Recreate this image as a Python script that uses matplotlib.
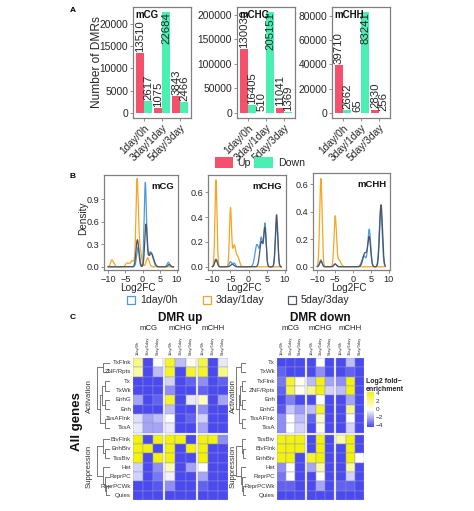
import numpy as np
import matplotlib
matplotlib.use('Agg')
import matplotlib.pyplot as plt
from matplotlib.colors import LinearSegmentedColormap, Normalize
from matplotlib.patches import Rectangle

plt.rcParams['font.family'] = ['Liberation Sans', 'DejaVu Sans']

# ---------------- data: panel A ----------------
comparisons = ['1day/0h', '3day/1day', '5day/3day']
contexts = ['mCG', 'mCHG', 'mCHH']
dmr_up_mCG = [13510, 1075, 3843]
dmr_down_mCG = [2617, 22684, 2466]
dmr_up_mCHG = [130030, 510, 11041]
dmr_down_mCHG = [16405, 205151, 1369]
dmr_up_mCHH = [39710, 65, 2830]
dmr_down_mCHH = [2662, 83241, 256]
yticks_mCG = [0, 5000, 10000, 15000, 20000]
yticks_mCHG = [0, 50000, 100000, 150000, 200000]
yticks_mCHH = [0, 20000, 40000, 60000, 80000]

# ---------------- data: panel B (density peaks: center, height, width) ----------------
peaks_mCG_1d = [(-1.3, 0.26, 0.4), (0.8, 1.1, 0.32), (2.3, 0.2, 0.7), (7.5, 0.06, 0.35)]
peaks_mCG_3d = [(-9.0, 0.08, 0.35), (-8.4, 0.04, 0.35), (-4.5, 0.05, 0.45), (-3.0, 0.08, 0.55),
                (-1.6, 1.0, 0.32), (-1.0, 0.3, 0.55), (1.5, 0.12, 0.45)]
peaks_mCG_5d = [(-1.5, 0.36, 0.4), (1.0, 0.55, 0.36), (2.5, 0.18, 0.7), (7.7, 0.03, 0.35)]

peaks_mCHG_1d = [(-9.0, 0.06, 0.35), (-5.0, 0.04, 0.35), (-4.0, 0.03, 0.35), (2.3, 0.18, 0.55),
                 (3.5, 0.22, 0.35), (4.5, 0.35, 0.33), (7.7, 0.36, 0.33)]
peaks_mCHG_3d = [(-9.0, 0.70, 0.28), (-5.0, 0.47, 0.28), (-4.0, 0.17, 0.4), (-3.0, 0.08, 0.45)]
peaks_mCHG_5d = [(-9.0, 0.06, 0.35), (-4.5, 0.02, 0.45), (3.5, 0.2, 0.45), (4.5, 0.3, 0.33), (7.7, 0.42, 0.33)]

peaks_mCHH_1d = [(-9.0, 0.05, 0.35), (-5.0, 0.02, 0.35), (3.0, 0.08, 0.55), (4.5, 0.27, 0.4), (7.7, 0.42, 0.4)]
peaks_mCHH_3d = [(-9.0, 0.64, 0.33), (-5.0, 0.36, 0.33), (-4.0, 0.05, 0.55)]
peaks_mCHH_5d = [(-9.0, 0.04, 0.35), (-5.0, 0.02, 0.35), (3.3, 0.1, 0.55), (4.5, 0.21, 0.4), (7.8, 0.45, 0.4)]

dens_yticks_mCG = [0.0, 0.3, 0.6, 0.9]
dens_yticks_mCHG = [0.0, 0.2, 0.4, 0.6]
dens_yticks_mCHH = [0.0, 0.2, 0.4, 0.6]
dens_xticks = [-10, -5, 0, 5, 10]

# ---------------- data: panel C (log2 fold-enrichment) ----------------
up_rows = ['TxFlnk', 'ZNF/Rpts', 'Tx', 'TxWk', 'EnhG', 'Enh', 'TssAFlnk', 'TssA',
           'BivFlnk', 'EnhBiv', 'TssBiv', 'Het', 'ReprPC', 'ReprPCWk', 'Quies']
up_mCG = [[2, -4, 0], [1.5, -4, -1.5], [-4, -4, -4], [-4, -4, -4], [-2, -4, -3.5], [-4, -4, -4],
          [-0.7, -2, -1.5], [-0.5, -2, -2], [4, -4, 4], [4, 4, -4], [4, -4, 4], [-1, -4, -2.5],
          [-1, -4, -3], [-4, -4, -3.7], [-4, -4, -4]]
up_mCHG = [[3.5, -1.5, 0.3], [3.5, -4, 3.5], [-1, -4, -3.5], [-2.5, -4, -4], [3.5, -4, -0.5],
           [-1.5, -4, -4], [0, -4, -3.5], [-0.5, -4, -4], [4, 4, -4], [4, -4, 4], [4, -4, -4],
           [1.2, -4, -2], [-0.3, -4, -4], [-2.5, -4, -4], [-4, -4, -4]]
up_mCHH = [[3, -4, -0.5], [3.5, -4, 2], [-2.5, -4, -3.5], [-3.5, -4, -4], [1, -4, -2],
           [-2.5, -4, -4], [-1, -4, -4], [-2, -4, -4], [4, 4, -2.5], [4, -4, -4], [4, -4, -4],
           [0, -4, -4], [-2, -4, -4], [-3.5, -4, -4], [-4, -4, -4]]

down_rows = ['Tx', 'TxWk', 'TxFlnk', 'ZNF/Rpts', 'Enh', 'EnhG', 'TssAFlnk', 'TssA',
             'TssBiv', 'BivFlnk', 'EnhBiv', 'Het', 'ReprPC', 'ReprPCWk', 'Quies']
down_mCG = [[-4, -4, -4], [-3.5, -4, -4], [-3, 3.5, 0.3], [-3.5, 3, 0.3], [-4, -2.8, -4],
            [-3.7, -1.2, -2.2], [-2.5, 0, -1.5], [-2.5, 0, -1], [4, 4, 4], [4, 4, 4], [4, 4, -4],
            [-2.5, 0, -4], [-3, 0, -4], [-3.5, -3.5, -4], [-4, -4, -4]]
down_mCHG = [[-4, 0, -4], [-4, -2.5, -4], [-1.5, 4, -2], [2, 4, -1], [-4, 0, -4],
             [-1.5, 3.5, -4], [-3.5, 1, -4], [-4, 0.5, -4], [-4, 4, -4], [-4, 4, -4], [3.5, 4, -4],
             [-2, 1.5, -4], [-4, 0, -4], [-4, -2, -4], [-4, -4, -4]]
down_mCHH = [[-4, -1.5, -4], [-4, -3.5, -4], [-2.5, 4, -4], [-1.5, 4, -4], [-4, -2, -4],
             [-4, 2, -4], [-4, 0, -4], [-4, -1, -4], [1.5, 4, -4], [-4, 4, -4], [-4, 4, 0],
             [-4, 1.5, -4], [-4, -1, -4], [-3.5, -3.5, -4], [-4, -4, -4]]
cbar_ticks = [4, 2, 0, -2, -4]

# ---------------- figure ----------------
W, H = 474, 511
fig = plt.figure(figsize=(W / 100, H / 100), dpi=100)


def add_ax(x0, y0, x1, y1):
    return fig.add_axes([x0 / W, 1 - y1 / H, (x1 - x0) / W, (y1 - y0) / H])


def T(x, y, s, **kw):
    return fig.text(x / W, 1 - y / H, s, **kw)


def frect(x0, y0, x1, y1, **kw):
    fig.add_artist(Rectangle((x0 / W, 1 - y1 / H), (x1 - x0) / W, (y1 - y0) / H,
                             transform=fig.transFigure, **kw))


SP = '#808080'
TXT = '#262626'
UP_C = '#F4516C'
DOWN_C = '#4CEFB2'


def style_ax(ax, size):
    for s in ax.spines.values():
        s.set_color(SP)
        s.set_linewidth(0.9)
    ax.tick_params(length=2, width=0.6, color=SP, labelsize=size, labelcolor=TXT, pad=1.5)


# ---------- Panel A ----------
T(73, 10, 'A', fontsize=6, fontweight='bold', ha='center', va='center')
bar_sets = [(133, dmr_up_mCG, dmr_down_mCG, yticks_mCG),
            (237, dmr_up_mCHG, dmr_down_mCHG, yticks_mCHG),
            (332, dmr_up_mCHH, dmr_down_mCHH, yticks_mCHH)]
for (x0, up, down, yt), name in zip(bar_sets, contexts):
    ax = add_ax(x0, 7, x0 + 58, 118)
    x = np.arange(3)
    w = 0.45
    ax.bar(x - w / 2, up, w, color=UP_C)
    ax.bar(x + w / 2, down, w, color=DOWN_C)
    ymax = max(max(up), max(down))
    ax.set_ylim(-0.05 * ymax, 1.05 * ymax)
    ax.set_xlim(-0.6, 2.6)
    for xs_, vals in ((x - w / 2, up), (x + w / 2, down)):
        for xi, v in zip(xs_, vals):
            if v == ymax:
                ax.text(xi, v, str(v), rotation=90, ha='center', va='top', fontsize=8.2, color=TXT)
            else:
                ax.text(xi, v + 0.012 * ymax, str(v), rotation=90, ha='center', va='bottom',
                        fontsize=8.2, color=TXT)
    ax.set_yticks(yt)
    ax.set_xticks(x)
    ax.set_xticklabels(comparisons, rotation=45, ha='right', rotation_mode='anchor')
    style_ax(ax, 7.4)
    ax.text(0.04, 0.975, name, transform=ax.transAxes, ha='left', va='top',
            fontsize=7, fontweight='bold', color='#111111')
T(97, 62, 'Number of DMRs', rotation=90, ha='center', va='center', fontsize=8.6, color=TXT)
frect(215, 157, 233, 168, color=UP_C, lw=0)
T(237, 163, 'Up', ha='left', va='center', fontsize=7.6, color=TXT)
frect(254, 157, 273, 168, color=DOWN_C, lw=0)
T(278, 163, 'Down', ha='left', va='center', fontsize=7.6, color=TXT)

# ---------- Panel B ----------
T(73, 176, 'B', fontsize=6, fontweight='bold', ha='center', va='center')
C1, C3, C5 = '#4C9BE0', '#F5A623', '#4D5566'
xs = np.linspace(-10, 9, 1200)


def curve(peaks):
    y = np.zeros_like(xs)
    for c, h, s in peaks:
        y += h * np.exp(-0.5 * ((xs - c) / s) ** 2)
    return y


dens_sets = [((104, 178, 175, 270), peaks_mCG_1d, peaks_mCG_3d, peaks_mCG_5d, dens_yticks_mCG, 1.22),
             ((208, 286, 175, 270), peaks_mCHG_1d, peaks_mCHG_3d, peaks_mCHG_5d, dens_yticks_mCHG, 0.74),
             ((313, 390, 173, 270), peaks_mCHH_1d, peaks_mCHH_3d, peaks_mCHH_5d, dens_yticks_mCHH, 0.68)]
for (box, p1, p3, p5, yt, ytop), name in zip(dens_sets, contexts):
    x0, x1, y0, y1 = box
    ax = add_ax(x0, y0, x1, y1)
    for p, c in ((p1, C1), (p3, C3), (p5, C5)):
        ax.plot(xs, curve(p), color=c, lw=0.9)
    ax.set_xlim(-11.2, 10.3)
    ax.set_ylim(-0.035 * ytop, ytop)
    ax.set_yticks(yt)
    ax.set_yticklabels(['%.1f' % v for v in yt])
    ax.set_xticks(dens_xticks)
    style_ax(ax, 6.6)
    ax.text(0.95, 0.93, name, transform=ax.transAxes, ha='right', va='top',
            fontsize=6.8, fontweight='bold', color='#111111')
    T((x0 + x1) / 2 - 3, 288, 'Log2FC', ha='center', va='center', fontsize=7.2, color=TXT)
T(83, 218, 'Density', rotation=90, ha='center', va='center', fontsize=7.2, color=TXT)
for sx, c, lab in ((127, C1, '1day/0h'), (203, C3, '3day/1day'), (288, C5, '5day/3day')):
    frect(sx, 296, sx + 8, 304, facecolor='none', edgecolor=c, lw=0.9)
    T(sx + 13, 300, lab, ha='left', va='center', fontsize=7.6, color=TXT)

# ---------- Panel C ----------
T(73, 317, 'C', fontsize=6, fontweight='bold', ha='center', va='center')
cmap = LinearSegmentedColormap.from_list('be', ['#4A4AF0', '#FFFFFF', '#F2F20C'])
norm = Normalize(-4, 4)
GAP = 0.22


def row_y(r):
    return r + (GAP if r >= 8 else 0)


def draw_tree(ax, node):
    if isinstance(node, int):
        return row_y(node) + 0.5, 0.0
    l, r, h = node
    yl, xl = draw_tree(ax, l)
    yr, xr = draw_tree(ax, r)
    ax.plot([xl, h, h, xr], [yl, yl, yr, yr], color='#555555', lw=0.55, solid_capstyle='butt')
    return (yl + yr) / 2, h


def heatmap(x0, x1, mats, rows, title, tree_x, act_trees, label_x):
    y0, y1 = 358, 500
    ax = add_ax(x0, y0, x1, y1)
    for g, m in enumerate(mats):
        for r in range(15):
            for c in range(3):
                xx = g * (3 + GAP) + c
                ax.add_patch(Rectangle((xx, row_y(r)), 1, 1, facecolor=cmap(norm(m[r][c])),
                                       edgecolor='#9494c4', lw=0.3))
    xmax = 9 + 2 * GAP
    ax.set_xlim(0, xmax)
    ax.set_ylim(15 + GAP, 0)
    ax.axis('off')
    for r, name in enumerate(rows):
        ax.text(-0.2, row_y(r) + 0.5, name, ha='right', va='center', fontsize=4.4, color='#333333')
    for g, ctx in enumerate(contexts):
        for c, comp in enumerate(comparisons):
            ax.text(g * (3 + GAP) + c + 0.5, -0.35, comp, rotation=90, ha='center', va='bottom',
                    fontsize=2.9, color='#333333')
        cx = x0 + (g * (3 + GAP) + 1.5) / xmax * (x1 - x0)
        T(cx, 328, ctx, ha='center', va='center', fontsize=5.6, color='#222222')
    T((x0 + x1) / 2, 318, title, ha='center', va='center', fontsize=8.5, fontweight='bold', color='#111111')
    tx0, tx1 = tree_x
    tax = add_ax(tx0, y0, tx1, y1)
    for t in act_trees:
        draw_tree(tax, t)
    tax.set_xlim(1.05, -0.02)
    tax.set_ylim(15 + GAP, 0)
    tax.axis('off')
    T(label_x, 396, 'Activation', rotation=90, ha='center', va='center', fontsize=5.6, color='#333333')
    T(label_x, 466, 'Suppression', rotation=90, ha='center', va='center', fontsize=5.6, color='#333333')


up_trees = [((0, 1, 0.55), (((2, 3, 0.35), (4, 5, 0.4), 0.6), (6, 7, 0.4), 0.75), 1.0),
            ((8, (9, 10, 0.35), 0.5), (11, (12, (13, 14, 0.3), 0.4), 0.55), 1.0)]
down_trees = [((0, 1, 0.5), (((2, 3, 0.4), (4, 5, 0.45), 0.6), (6, 7, 0.4), 0.75), 1.0),
              ((8, (9, 10, 0.3), 0.45), (11, (12, (13, 14, 0.3), 0.4), 0.5), 1.0)]

heatmap(133, 228, [up_mCG, up_mCHG, up_mCHH], up_rows, 'DMR up', (96, 110), up_trees, 89)
heatmap(277, 364, [down_mCG, down_mCHG, down_mCHH], down_rows, 'DMR down', (236, 246), down_trees, 233)
T(77, 422, 'All genes', rotation=90, ha='center', va='center', fontsize=9.5, fontweight='bold', color='#111111')

# colorbar
cax = add_ax(367, 392, 374, 427)
grad = np.linspace(4, -4, 200).reshape(-1, 1)
cax.imshow(grad, aspect='auto', cmap=cmap, norm=norm, extent=[0, 1, -4.4, 4.4])
cax.set_ylim(-4.4, 4.4)
cax.axis('off')
for v in cbar_ticks:
    yy = 427 - (v + 4.4) / 8.8 * 35
    T(376, yy, str(v).replace('-', '\u2212'), ha='left', va='center', fontsize=4.6, color='#333333')
T(366, 381, 'Log2 fold\u2212', ha='left', va='center', fontsize=5.0, fontweight='bold', color='#222222')
T(366, 389, 'enrichment', ha='left', va='center', fontsize=5.0, fontweight='bold', color='#222222')

fig.savefig('out.png', dpi=100)
